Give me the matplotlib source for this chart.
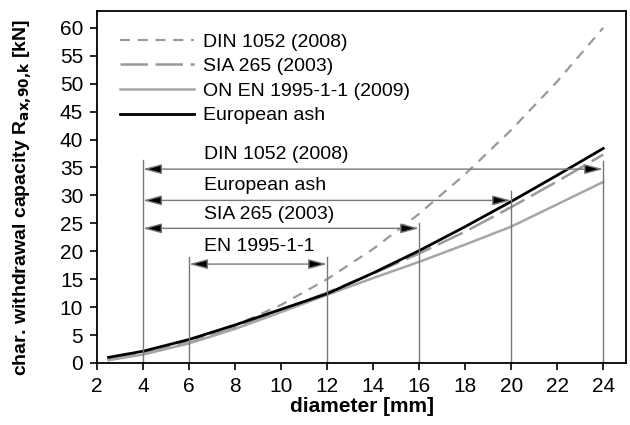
import matplotlib
matplotlib.use("Agg")
import matplotlib.pyplot as plt

plt.rcParams['font.family'] = ['Liberation Sans', 'DejaVu Sans']

# data
diam = [2.5, 4, 6, 8, 10, 12, 14, 16, 18, 20, 22, 24]
din_1052 = [0.65, 1.7, 3.8, 6.7, 10.4, 15.0, 20.4, 26.7, 33.8, 41.7, 50.4, 60.0]
sia_265 = [0.6, 1.6, 3.6, 6.3, 9.4, 12.6, 16.0, 19.6, 23.5, 27.9, 32.5, 37.3]
on_en_1995 = [0.5, 1.5, 3.5, 6.1, 9.1, 12.2, 15.2, 18.1, 21.2, 24.4, 28.4, 32.4]
european_ash = [1.0, 2.1, 4.2, 6.8, 9.6, 12.4, 16.1, 20.1, 24.4, 28.9, 33.6, 38.4]

# diameter ranges covered by each standard
range_labels = ["DIN 1052 (2008)", "European ash", "SIA 265 (2003)", "EN 1995-1-1"]
range_start = [4, 4, 4, 6]
range_end = [24, 20, 16, 12]
range_y = [34.7, 29.1, 24.1, 17.7]
text_y = [37.3, 31.8, 26.5, 20.8]
# vertical guide lines (x, top)
guide_x = [4, 6, 12, 16, 20, 24]
guide_top = [36.4, 19.0, 19.0, 25.0, 30.8, 36.2]

fig, ax = plt.subplots(figsize=(6.3, 4.25), dpi=100)
fig.subplots_adjust(left=0.154, right=0.994, bottom=0.146, top=0.974)

ax.plot(diam, din_1052, linestyle=(0, (4.5, 3.5)), color="#999999", lw=1.6, label="DIN 1052 (2008)")
ax.plot(diam, sia_265, linestyle=(0, (11, 3)), color="#999999", lw=1.8, label="SIA 265 (2003)")
ax.plot(diam, on_en_1995, linestyle="-", color="#a6a6a6", lw=1.8, label="ON EN 1995-1-1 (2009)")
ax.plot(diam, european_ash, linestyle="-", color="black", lw=2.0, label="European ash")

for gx, gt in zip(guide_x, guide_top):
    ax.plot([gx, gx], [0, gt], color="#777777", lw=1.0)

for lab, x0, x1, y, ty in zip(range_labels, range_start, range_end, range_y, text_y):
    ax.annotate("", xy=(x0, y), xytext=(x1, y),
                arrowprops=dict(arrowstyle="<|-|>,head_length=0.75,head_width=0.2",
                                lw=1.0, shrinkA=0, shrinkB=0,
                                mutation_scale=15, fc="black", ec="#777777"))
    ax.text(6.65, ty, lab, fontsize=14, ha="left", va="center")

ax.set_xlim(2, 25)
ax.set_ylim(0, 63)
ax.set_xticks(range(2, 25, 2))
ax.set_yticks(range(0, 61, 5))
ax.tick_params(labelsize=15, direction="out", length=5, width=1.2, pad=5)
for s in ax.spines.values():
    s.set_linewidth(1.3)

ax.set_xlabel("diameter [mm]", fontsize=15, fontweight="bold", labelpad=1)
ax.set_ylabel(r"char. withdrawal capacity R$_{\mathbf{ax{,}90{,}k}}$ [kN]", fontsize=14,
              fontweight="bold")
ax.yaxis.set_label_coords(-0.12, 0.47)

ax.legend(loc="upper left", bbox_to_anchor=(0.028, 0.96), frameon=False, fontsize=14,
          handlelength=3.8, handletextpad=0.5, labelspacing=0.36, borderaxespad=0.0)

plt.savefig("out.png", dpi=100)
